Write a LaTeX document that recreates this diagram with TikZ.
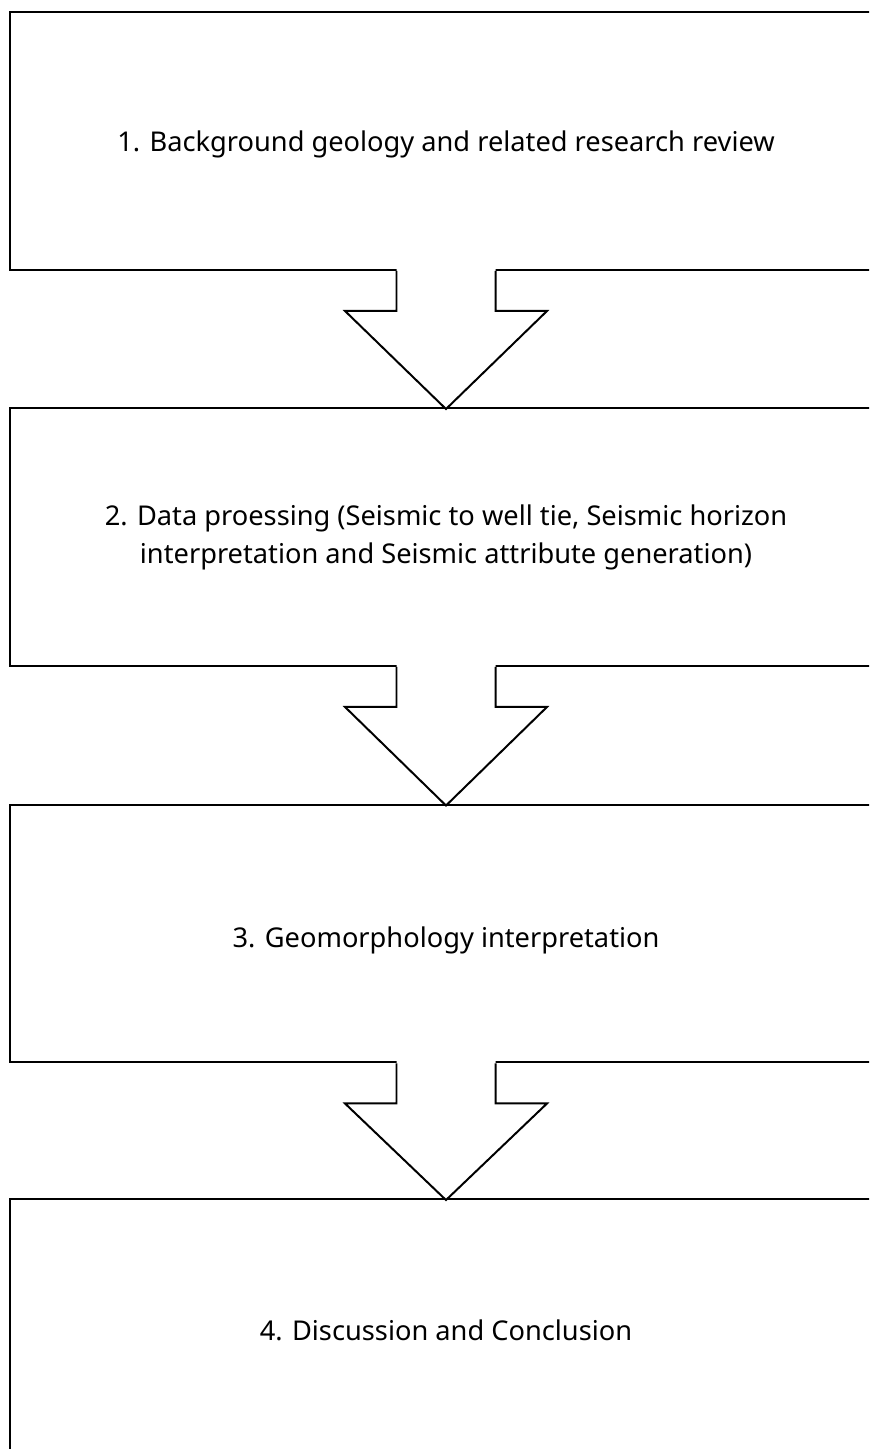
\documentclass[tikz,border=0pt]{standalone}
\usepackage{fontspec}
\setmainfont{Noto Sans}
\usetikzlibrary{calc}
\tikzset{
  stepbox/.style={draw=black, line width=1.13pt, rectangle, minimum width=17.44cm, minimum height=5.16cm, align=center, font=\fontsize{15.5}{21.6}\selectfont, inner sep=0pt},
  arrowline/.style={draw=black, line width=1.13pt, line join=miter},
}
\newcommand\flowarrow[2]{%
  \fill[white] ($(#1.south)+(-49.5,-4)$) -- ($(#1.south)+(-49.5,40)$) -- ($(#1.south)+(-101,40)$) -- ($(#2.north)+(0,2)$) -- ($(#1.south)+(101,40)$) -- ($(#1.south)+(49.5,40)$) -- ($(#1.south)+(49.5,-4)$) -- cycle;
  \draw[arrowline] ($(#1.south)+(-49.5,0)$) -- ($(#1.south)+(-49.5,40)$) -- ($(#1.south)+(-101,40)$) -- ($(#2.north)+(0,2)$) -- ($(#1.south)+(101,40)$) -- ($(#1.south)+(49.5,40)$) -- ($(#1.south)+(49.5,0)$);
}
\begin{document}
\begin{tikzpicture}[x=0.02cm,y=-0.02cm]
\useasboundingbox (0,0) rectangle (869,1449);
\clip (0,0) rectangle (869,1449);
\fill[white] (0,0) rectangle (869,1449);
\node[stepbox, text height=12.5pt, text depth=0pt] (b1) at (446,141) {1. Background geology and related research review};
\node[stepbox] (b2) at (446,537) {2. Data proessing (Seismic to well tie, Seismic horizon\\interpretation and Seismic attribute generation)};
\node[stepbox, text height=15.4pt, text depth=0pt] (b3) at (446,933.5) {3. Geomorphology interpretation};
\node[stepbox, text height=13.7pt, text depth=0pt] (b4) at (446,1328) {4. Discussion and Conclusion};
\flowarrow{b1}{b2}
\flowarrow{b2}{b3}
\flowarrow{b3}{b4}
\end{tikzpicture}
\end{document}
